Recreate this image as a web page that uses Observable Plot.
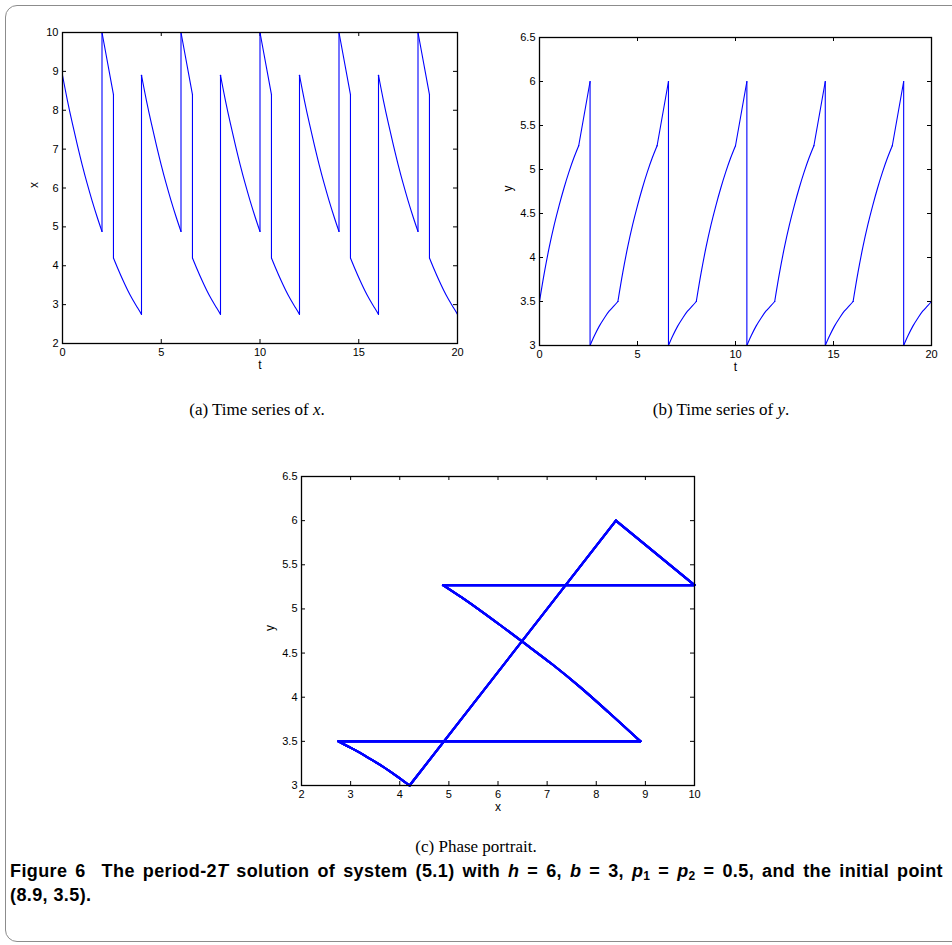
<!DOCTYPE html>
<html>
<head>
<meta charset="utf-8">
<script src="https://cdn.jsdelivr.net/npm/d3@7"></script>
<script src="https://cdn.jsdelivr.net/npm/@observablehq/plot@0.6"></script>
<style>
  html, body { margin: 0; padding: 0; background: #fff; }
  #page { position: relative; width: 952px; height: 945px; overflow: hidden; background: #fff; }
  #box { position: absolute; left: 5px; top: 5px; width: 1000px; height: 937px; border: 1.5px solid #8c8c8c; border-radius: 12px; box-sizing: border-box; }
  .panel { position: absolute; }
  .sub { position: absolute; font-family: "Liberation Serif", serif; font-size: 17px; color: #000; white-space: nowrap; transform: translate(-50%, -50%); }
  .cap { position: absolute; left: 10px; font-family: "Liberation Sans", Arial, sans-serif; font-weight: bold; font-size: 18px; letter-spacing: 0.4px; line-height: 22px; color: #000; white-space: nowrap; }
  .cap sub { font-size: 12px; line-height: 0; vertical-align: -3px; }
</style>
</head>
<body>
<div id="page">
  <div id="box"></div>
  <div id="pa" class="panel" style="left:0px;top:0px"></div>
  <div id="pb" class="panel" style="left:476px;top:0px"></div>
  <div id="pc" class="panel" style="left:240px;top:440px"></div>
  <div class="sub" style="left:257px;top:410px">(a) Time series of <i>x</i>.</div>
  <div class="sub" style="left:721px;top:410px">(b) Time series of <i>y</i>.</div>
  <div class="sub" style="left:476px;top:847px">(c) Phase portrait.</div>
  <div id="cap1" class="cap" style="top:860px">Figure 6&nbsp;&nbsp;The period-2<i>T</i> solution of system (5.1) with <i>h</i> = 6, <i>b</i> = 3, <i>p</i><sub>1</sub> = <i>p</i><sub>2</sub> = 0.5, and the initial point</div>
  <div id="cap2" class="cap" style="top:884px">(8.9, 3.5).</div>
</div>
<script>
// ---- data (t, x(t), y(t)); a repeated t marks an impulsive jump ----
const tValues = [
  0,0.25,0.5,0.75,1,1.25,1.5,1.75,2,2,2.58,2.58,2.8,3.05,3.3,3.55,3.8,4,
  4,4.25,4.5,4.75,5,5.25,5.5,5.75,6,6,6.58,6.58,6.8,7.05,7.3,7.55,7.8,8,
  8,8.25,8.5,8.75,9,9.25,9.5,9.75,10,10,10.58,10.58,10.8,11.05,11.3,11.55,11.8,12,
  12,12.25,12.5,12.75,13,13.25,13.5,13.75,14,14,14.58,14.58,14.8,15.05,15.3,15.55,15.8,16,
  16,16.25,16.5,16.75,17,17.25,17.5,17.75,18,18,18.58,18.58,18.8,19.05,19.3,19.55,19.8,20
];
const xValues = [
  8.9,8.25,7.66,7.11,6.59,6.11,5.67,5.26,4.88,10,8.4,4.2,3.93,3.64,3.37,3.13,2.92,2.75,
  8.9,8.25,7.66,7.11,6.59,6.11,5.67,5.26,4.88,10,8.4,4.2,3.93,3.64,3.37,3.13,2.92,2.75,
  8.9,8.25,7.66,7.11,6.59,6.11,5.67,5.26,4.88,10,8.4,4.2,3.93,3.64,3.37,3.13,2.92,2.75,
  8.9,8.25,7.66,7.11,6.59,6.11,5.67,5.26,4.88,10,8.4,4.2,3.93,3.64,3.37,3.13,2.92,2.75,
  8.9,8.25,7.66,7.11,6.59,6.11,5.67,5.26,4.88,10,8.4,4.2,3.93,3.64,3.37,3.13,2.92,2.75
];
const yValues = [
  3.5,3.83,4.12,4.37,4.59,4.79,4.97,5.13,5.27,5.27,6.0,3.0,3.11,3.22,3.31,3.39,3.45,3.5,
  3.5,3.83,4.12,4.37,4.59,4.79,4.97,5.13,5.27,5.27,6.0,3.0,3.11,3.22,3.31,3.39,3.45,3.5,
  3.5,3.83,4.12,4.37,4.59,4.79,4.97,5.13,5.27,5.27,6.0,3.0,3.11,3.22,3.31,3.39,3.45,3.5,
  3.5,3.83,4.12,4.37,4.59,4.79,4.97,5.13,5.27,5.27,6.0,3.0,3.11,3.22,3.31,3.39,3.45,3.5,
  3.5,3.83,4.12,4.37,4.59,4.79,4.97,5.13,5.27,5.27,6.0,3.0,3.11,3.22,3.31,3.39,3.45,3.5
];

const tTicks = [0, 5, 10, 15, 20];
const xTicksA = [2, 3, 4, 5, 6, 7, 8, 9, 10];
const yTicksB = [3, 3.5, 4, 4.5, 5, 5.5, 6, 6.5];
const xTicksC = [2, 3, 4, 5, 6, 7, 8, 9, 10];
const yTicksC = [3, 3.5, 4, 4.5, 5, 5.5, 6, 6.5];

// Build rows; a new smooth piece starts after every jump (repeated t)
let seg = 0;
const rows = tValues.map((t, i) => {
  if (i > 0 && t === tValues[i - 1]) seg++;
  return {t, x: xValues[i], y: yValues[i], seg};
});
// the straight "jump" connectors between the two rows sharing a t
const jumps = [];
for (let i = 1; i < rows.length; i++) {
  if (rows[i].t === rows[i - 1].t) jumps.push({a: rows[i - 1], b: rows[i]});
}

const BLUE = "#0000ff";
const TICK = 4;

function panel({width, height, ml, mr, mt, mb, xDomain, yDomain, xt, yt, xKey, yKey, xLabel, yLabel, lw, xLabOff, yLabOff}) {
  const innerW = width - ml - mr;
  const innerH = height - mt - mb;
  const fmt = d => String(d);
  const lineStyle = {stroke: BLUE, strokeWidth: lw, strokeLinejoin: "round", strokeLinecap: "round"};
  return Plot.plot({
    width, height,
    marginLeft: ml, marginRight: mr, marginTop: mt, marginBottom: mb,
    x: {domain: xDomain},
    y: {domain: yDomain},
    style: {fontFamily: "'Liberation Sans', Arial, sans-serif", fontSize: "11px", color: "#000", background: "transparent", overflow: "visible"},
    marks: [
      Plot.axisX(xt, {tickSize: 0, tickPadding: 5, tickFormat: fmt, label: null}),
      Plot.axisY(yt, {tickSize: 0, tickPadding: 4, tickFormat: fmt, label: null}),
      // inward ticks on all four sides (MATLAB box style)
      Plot.tickX(xt, {x: d => d, insetTop: innerH - TICK, stroke: "#000", strokeWidth: 1}),
      Plot.tickX(xt, {x: d => d, insetBottom: innerH - TICK, stroke: "#000", strokeWidth: 1}),
      Plot.tickY(yt, {y: d => d, insetRight: innerW - TICK, stroke: "#000", strokeWidth: 1}),
      Plot.tickY(yt, {y: d => d, insetLeft: innerW - TICK, stroke: "#000", strokeWidth: 1}),
      Plot.line(rows, {x: xKey, y: yKey, z: "seg", curve: "catmull-rom", ...lineStyle}),
      Plot.link(jumps, {x1: d => d.a[xKey], y1: d => d.a[yKey], x2: d => d.b[xKey], y2: d => d.b[yKey], ...lineStyle}),
      Plot.frame({stroke: "#000", strokeWidth: 1.3}),
      Plot.text([xLabel], {text: d => d, frameAnchor: "bottom", dy: xLabOff, fontSize: 12}),
      Plot.text([yLabel], {text: d => d, frameAnchor: "left", dx: -yLabOff, rotate: -90, fontSize: 12})
    ]
  });
}

document.getElementById("pa").append(panel({
  width: 476, height: 380, ml: 62, mr: 19, mt: 32, mb: 37,
  xDomain: [0, 20], yDomain: [2, 10], xt: tTicks, yt: xTicksA,
  xKey: "t", yKey: "x", xLabel: "t", yLabel: "x", lw: 1.1, xLabOff: 25, yLabOff: 28
}));

document.getElementById("pb").append(panel({
  width: 476, height: 380, ml: 63, mr: 21, mt: 37, mb: 35,
  xDomain: [0, 20], yDomain: [3, 6.5], xt: tTicks, yt: yTicksB,
  xKey: "t", yKey: "y", xLabel: "t", yLabel: "y", lw: 1.1, xLabOff: 25, yLabOff: 31
}));

document.getElementById("pc").append(panel({
  width: 480, height: 390, ml: 61, mr: 26, mt: 36, mb: 45,
  xDomain: [2, 10], yDomain: [3, 6.5], xt: xTicksC, yt: yTicksC,
  xKey: "x", yKey: "y", xLabel: "x", yLabel: "y", lw: 2.1, xLabOff: 25, yLabOff: 31
}));

// justify the first caption line to the reference's width (x 10 → 943) via word spacing
const cap1 = document.getElementById("cap1");
const w = cap1.getBoundingClientRect().width;
const nSpaces = (cap1.textContent.match(/[ \u00a0]/g) || []).length;
if (w < 933 && nSpaces > 0) cap1.style.wordSpacing = ((933 - w) / nSpaces) + "px";
</script>
</body>
</html>
